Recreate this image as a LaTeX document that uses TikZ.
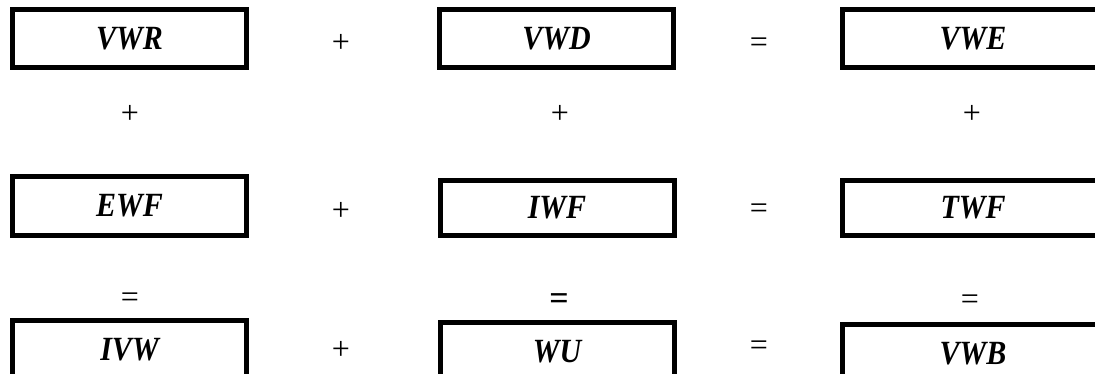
\documentclass[tikz,border=0pt]{standalone}
\usepackage{fontspec}
\usepackage{graphicx}
\setmainfont{Liberation Serif}
\newcommand{\tallterm}[1]{\scalebox{1}[1.13]{#1}}
\begin{document}
\begin{tikzpicture}[x=1pt,y=-1pt,
  termbox/.style={draw=black,line width=5pt,rectangle,inner sep=0pt,
    font=\fontsize{30}{36}\selectfont\bfseries\itshape,
    minimum width=234pt,minimum height=58pt},
  widebox/.style={termbox,minimum width=261pt},
  opsign/.style={inner sep=0pt,font=\fontsize{32}{36}\selectfont}]
\useasboundingbox (0,0) rectangle (1095,374);
\clip (0,0) rectangle (1095,374);
% row 1
\node[termbox] (vwr) at (129.5,38.5) {\tallterm{VWR}};
\node[termbox] (vwd) at (556.5,38.5) {\tallterm{VWD}};
\node[widebox] (vwe) at (973,38.5) {\tallterm{VWE}};
\node[opsign] (p11) at (341,43) {+};
\node[opsign] (e11) at (759,45) {=};
% between rows 1 and 2
\node[opsign] (p21) at (130,114) {+};
\node[opsign] (p22) at (560,114) {+};
\node[opsign] (p23) at (972,114) {+};
% row 2
\node[termbox,minimum height=59pt] (ewf) at (129.5,206) {\tallterm{EWF}};
\node[termbox,minimum height=55pt] (iwf) at (557,208) {\tallterm{IWF}};
\node[widebox,minimum height=55pt] (twf) at (973,208) {\tallterm{TWF}};
\node[opsign] (p31) at (341,211) {+};
\node[opsign] (e31) at (759,211) {=};
% between rows 2 and 3
\node[opsign] (e41) at (130,300) {=};
\node[opsign,font=\fontsize{34}{36}\selectfont\bfseries] (e42) at (559,302) {=};
\node[opsign] (e43) at (970,302) {=};
% row 3
\node[termbox] (ivw) at (129.5,349.5) {\tallterm{IVW}};
\node[termbox] (wu) at (557,351.5) {\tallterm{WU}};
\node[widebox] (vwb) at (973,353.5) {\tallterm{VWB}};
\node[opsign] (p51) at (341,350) {+};
\node[opsign] (e51) at (759,348) {=};
\end{tikzpicture}
\end{document}
